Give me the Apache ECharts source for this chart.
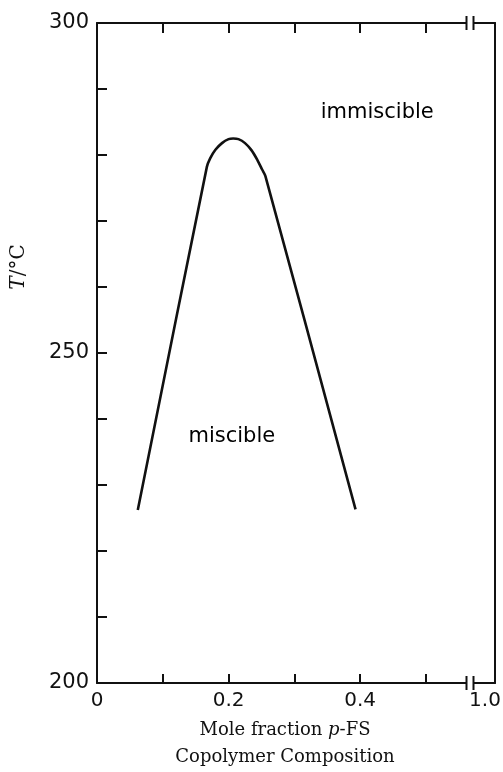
<!DOCTYPE html>
<html>
<head>
<meta charset="utf-8">
<script src="https://cdn.jsdelivr.net/npm/echarts@6/dist/echarts.min.js"></script>
<style>
html,body{margin:0;padding:0;background:#fff;}
#c{width:503px;height:772px;}
</style>
</head>
<body>
<div id="c"></div>
<script>
// ---- data ----
var curveX = [0.062, 0.167, 0.172, 0.180, 0.190, 0.200, 0.207, 0.215, 0.225, 0.235, 0.244, 0.251, 0.256, 0.393];
var curveT = [226.2, 278.2, 279.5, 280.8, 281.8, 282.4, 282.5, 282.4, 281.8, 280.7, 279.2, 277.8, 276.8, 226.3];
var xShownMax = 0.605;           // position standing for 1.0 beyond the axis break
var breakX = 0.567;              // axis break location
var xLabelValues = [0, 0.2, 0.4, xShownMax];
var xLabelTexts = ['0', '0.2', '0.4', '1.0'];
var xTickValues = [0.1, 0.2, 0.3, 0.4, 0.5];
var yLabelValues = [200, 250, 300];
var regionNames = ['immiscible', 'miscible'];
var regionX = [0.426, 0.205];
var regionT = [286.5, 237.3];

var curveData = curveX.map(function (x, i) { return [x, curveT[i]]; });
var textData = regionNames.map(function (n, i) { return { value: [regionX[i], regionT[i]], name: n }; });
var breakData = [[breakX, 300], [breakX, 200]];

var chart = echarts.init(document.getElementById('c'), null, { renderer: 'canvas' });
var axisLineStyle = { color: '#111', width: 2 };

chart.setOption({
  backgroundColor: '#fff',
  animation: false,
  grid: { left: 97, right: 8, top: 23, bottom: 89, containLabel: false, outerBoundsMode: 'none' },
  xAxis: [{
    type: 'value', position: 'bottom', min: 0, max: xShownMax,
    splitLine: { show: false },
    axisLine: { show: true, onZero: false, lineStyle: axisLineStyle },
    axisTick: { show: true, inside: true, length: 9, customValues: xTickValues, lineStyle: { color: '#111', width: 2 } },
    axisLabel: {
      show: true, customValues: xLabelValues, margin: 8,
      color: '#111', fontSize: 20, fontFamily: 'DejaVu Sans',
      formatter: function (v) {
        for (var i = 0; i < xLabelValues.length; i++) {
          if (Math.abs(v - xLabelValues[i]) < 1e-6) {
            return i === xLabelValues.length - 1 ? '{e|' + xLabelTexts[i] + '}' : xLabelTexts[i];
          }
        }
        return '';
      },
      rich: { e: { padding: [0, 20, 0, 0], color: '#111', fontSize: 20, fontFamily: 'DejaVu Sans' } }
    },
    name: '{a|Mole fraction }{i|p}{a|-FS}\n{a|Copolymer Composition}',
    nameLocation: 'middle', nameGap: 34,
    nameTextStyle: {
      padding: [0, 22, 0, 0],
      rich: {
        a: { fontFamily: 'DejaVu Serif', fontSize: 18, color: '#111', lineHeight: 27 },
        i: { fontFamily: 'DejaVu Serif', fontStyle: 'italic', fontSize: 18, color: '#111', lineHeight: 27 }
      }
    }
  }, {
    type: 'value', position: 'top', min: 0, max: xShownMax,
    splitLine: { show: false },
    axisLine: { show: true, onZero: false, lineStyle: axisLineStyle },
    axisTick: { show: true, inside: true, length: 10, customValues: xTickValues, lineStyle: { color: '#111', width: 2 } },
    axisLabel: { show: false }
  }],
  yAxis: [{
    type: 'value', position: 'left', min: 200, max: 300, interval: 10,
    splitLine: { show: false },
    axisLine: { show: true, onZero: false, lineStyle: axisLineStyle },
    axisTick: { show: true, inside: true, length: 10, lineStyle: { color: '#111', width: 2 } },
    axisLabel: {
      show: true, margin: 8, color: '#111', fontSize: 21, fontFamily: 'DejaVu Sans',
      formatter: function (v) { return yLabelValues.indexOf(v) >= 0 ? String(v) : ''; }
    },
    name: '{i|T}{a|/°C}',
    nameLocation: 'middle', nameGap: 68, nameRotate: 90,
    nameTextStyle: {
      padding: [0, 0, 0, 172],
      rich: {
        a: { fontFamily: 'DejaVu Serif', fontSize: 20, color: '#111' },
        i: { fontFamily: 'DejaVu Serif', fontStyle: 'italic', fontSize: 20, color: '#111' }
      }
    }
  }, {
    type: 'value', position: 'right', min: 200, max: 300, interval: 10,
    splitLine: { show: false },
    axisLine: { show: true, onZero: false, lineStyle: axisLineStyle },
    axisTick: { show: false },
    axisLabel: { show: false }
  }],
  series: [{
    type: 'line', data: curveData, xAxisIndex: 0, yAxisIndex: 0,
    showSymbol: false, symbol: 'none', smooth: 0.3,
    lineStyle: { color: '#111', width: 2.6 }, z: 3
  }, {
    type: 'scatter', data: textData, xAxisIndex: 0, yAxisIndex: 0,
    symbolSize: 1, itemStyle: { color: 'rgba(0,0,0,0)' },
    label: {
      show: true, position: 'inside', formatter: '{b}',
      color: '#000', opacity: 1, fontSize: 21, fontFamily: 'DejaVu Sans'
    }, z: 4
  }, {
    type: 'custom', data: breakData, xAxisIndex: 0, yAxisIndex: 0, clip: false, z: 10,
    renderItem: function (params, api) {
      var p = api.coord([api.value(0), api.value(1)]);
      return {
        type: 'group',
        children: [
          { type: 'rect', shape: { x: p[0] - 3, y: p[1] - 3, width: 6, height: 6 }, style: { fill: '#fff' } },
          { type: 'line', shape: { x1: p[0] - 3.5, y1: p[1] - 7, x2: p[0] - 3.5, y2: p[1] + 7 }, style: { stroke: '#111', lineWidth: 2 } },
          { type: 'line', shape: { x1: p[0] + 3.5, y1: p[1] - 7, x2: p[0] + 3.5, y2: p[1] + 7 }, style: { stroke: '#111', lineWidth: 2 } }
        ]
      };
    }
  }]
});
</script>
</body>
</html>
